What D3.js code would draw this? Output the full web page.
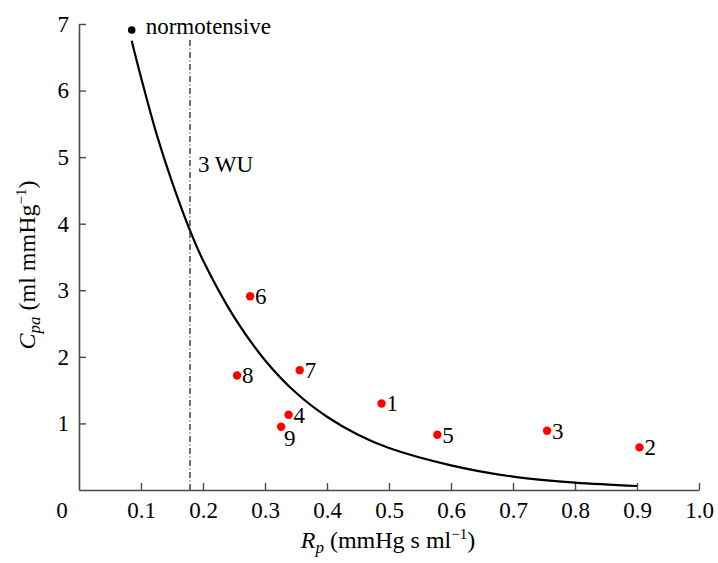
<!DOCTYPE html>
<html>
<head>
<meta charset="utf-8">
<script src="https://cdn.jsdelivr.net/npm/d3@7"></script>
<style>
  html, body { margin: 0; padding: 0; background: #fff; }
  svg { display: block; }
  text { font-family: "Liberation Serif", "Times New Roman", serif; fill: #000; }
</style>
</head>
<body>
<svg id="chart" width="718" height="563"></svg>
<script>
// ---- Data ----
const patientIds = ["1", "2", "3", "4", "5", "6", "7", "8", "9"];
const patientRp  = [0.488, 0.904, 0.755, 0.338, 0.578, 0.276, 0.356, 0.255, 0.326];
const patientCpa = [1.30, 0.64, 0.89, 1.13, 0.83, 2.91, 1.80, 1.72, 0.95];

const normotensiveRp = 0.085;
const normotensiveCpa = 6.91;
const normotensiveLabel = "normotensive";

// fitted curve
const curveRp  = [0.085, 0.10, 0.125, 0.15, 0.179, 0.20, 0.25, 0.30, 0.35, 0.40, 0.45, 0.50, 0.60, 0.70, 0.80, 0.90];
const curveCpa = [6.75, 6.20, 5.35, 4.63, 3.90, 3.45, 2.60, 1.95, 1.46, 1.10, 0.83, 0.63, 0.37, 0.20, 0.11, 0.06];

const wuRp = 0.179;   // 3 WU reference line
const wuLabel = "3 WU";

const xTicks = [0.1, 0.2, 0.3, 0.4, 0.5, 0.6, 0.7, 0.8, 0.9, 1.0];
const yTicks = [1, 2, 3, 4, 5, 6, 7];

// ---- Layout ----
const svg = d3.select("#chart");
const x = d3.scaleLinear().domain([0, 1]).range([79, 699]);
const y = d3.scaleLinear().domain([0, 7]).range([490, 24]);
const axisColor = "#4a4a4a";
const fs = 23;

// axes
const xAxis = svg.append("g").attr("transform", `translate(0,${y(0)})`)
  .call(d3.axisBottom(x).tickValues(xTicks).tickFormat(d3.format(".1f"))
        .tickSize(-7).tickSizeOuter(0).tickPadding(12));
const yAxis = svg.append("g").attr("transform", `translate(${x(0)},0)`)
  .call(d3.axisLeft(y).tickValues(yTicks).tickFormat(d3.format("d"))
        .tickSize(-7).tickSizeOuter(0).tickPadding(10));
[xAxis, yAxis].forEach(g => {
  g.attr("font-family", null);
  g.select(".domain").attr("stroke", axisColor).attr("stroke-width", 1.6);
  g.selectAll(".tick line").attr("stroke", axisColor).attr("stroke-width", 1.4);
  g.selectAll(".tick text").attr("font-size", fs).attr("fill", "#000");
});
// origin "0" label
svg.append("text").attr("x", 62).attr("y", y(0) + 12).attr("dy", "0.71em")
  .attr("text-anchor", "middle").attr("font-size", fs).text("0");

// 3 WU dash-dot line
svg.append("line")
  .attr("x1", x(wuRp)).attr("x2", x(wuRp))
  .attr("y1", 40).attr("y2", y(0))
  .attr("stroke", "#000").attr("stroke-width", 1.1)
  .attr("stroke-dasharray", "6,2.5,1,2.5");
svg.append("text").attr("x", x(wuRp) + 8).attr("y", 172)
  .attr("font-size", fs).text(wuLabel);

// curve
const line = d3.line().x((d, i) => x(curveRp[i])).y((d, i) => y(curveCpa[i])).curve(d3.curveCatmullRom);
svg.append("path").attr("d", line(curveRp))
  .attr("fill", "none").attr("stroke", "#000").attr("stroke-width", 2.2);

// normotensive
svg.append("circle").attr("cx", x(normotensiveRp)).attr("cy", y(normotensiveCpa))
  .attr("r", 3.8).attr("fill", "#000");
svg.append("text").attr("x", x(normotensiveRp) + 14).attr("y", y(normotensiveCpa) + 4)
  .attr("font-size", 23).text(normotensiveLabel);

// patients
const pts = patientIds.map((id, i) => ({ id, rp: patientRp[i], c: patientCpa[i] }));
svg.selectAll("circle.p").data(pts).enter().append("circle").attr("class", "p")
  .attr("cx", d => x(d.rp)).attr("cy", d => y(d.c)).attr("r", 4.2).attr("fill", "#ff0000");
svg.selectAll("text.p").data(pts).enter().append("text").attr("class", "p")
  .attr("x", d => x(d.rp) + (d.id === "9" ? 3 : 5))
  .attr("y", d => y(d.c) + (d.id === "9" ? 19 : 8))
  .attr("font-size", 23).text(d => d.id);

// axis titles
const tfs = 24;
const xt = svg.append("text").attr("x", 388).attr("y", 548).attr("text-anchor", "middle").attr("font-size", tfs);
xt.append("tspan").attr("font-style", "italic").text("R");
xt.append("tspan").attr("font-style", "italic").attr("font-size", 17).attr("dy", 5).text("p");
xt.append("tspan").attr("dy", -5).text(" (mmHg s ml");
xt.append("tspan").attr("font-size", 15).attr("dy", -9).text("−1");
xt.append("tspan").attr("dy", 9).text(")");

const yt = svg.append("text").attr("transform", "translate(35,265) rotate(-90)")
  .attr("text-anchor", "middle").attr("font-size", tfs);
yt.append("tspan").attr("font-style", "italic").text("C");
yt.append("tspan").attr("font-style", "italic").attr("font-size", 17).attr("dy", 5).text("pa");
yt.append("tspan").attr("dy", -5).text(" (ml mmHg");
yt.append("tspan").attr("font-size", 15).attr("dy", -9).text("−1");
yt.append("tspan").attr("dy", 9).text(")");
</script>
</body>
</html>
